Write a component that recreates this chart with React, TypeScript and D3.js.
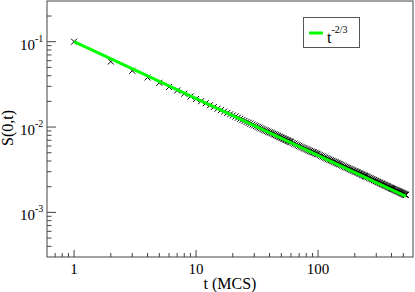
import React from "react";
import { scaleLog, line } from "d3";

// MC data, S(0,t) vs t
const times = [
  1, 2, 3, 4, 5, 6, 7, 8, 9, 10, 11, 12, 13, 14, 15, 16, 17, 18, 19, 20,
  21, 22, 23, 24, 25, 26, 27, 28, 29, 30, 31, 32, 33, 34, 35, 36, 37, 38, 39, 40,
  41, 42, 43, 44, 45, 46, 47, 48, 49, 50, 51, 52, 53, 54, 55, 56, 57, 58, 59, 60,
  62, 64, 66, 68, 70, 72, 74, 76, 78, 80, 82, 84, 86, 88, 90, 92, 94, 96, 98, 100,
  103, 106, 109, 112, 115, 118, 121, 124, 127, 130, 133, 136, 139, 142, 145, 148, 151,
  155, 159, 163, 167, 171, 175, 179, 183, 187, 191, 195, 199, 203, 207, 211, 215, 219,
  223, 227, 231, 235, 239, 243, 247, 251,
  257, 263, 269, 275, 281, 287, 293, 299, 305, 311, 317, 323, 329, 335, 341, 347, 353,
  359, 365, 371, 377, 383, 389, 395, 401, 407, 413, 419, 425, 431, 437, 443, 449, 455,
  461, 467, 473, 479, 485, 491, 497, 503, 509, 515, 521, 525,
];
const sValues = [
  0.1, 0.0586, 0.0457, 0.0381, 0.033, 0.0295, 0.0268, 0.0246, 0.0228, 0.0213,
  0.0201, 0.019, 0.018, 0.0172, 0.0164, 0.0158, 0.0152, 0.0146, 0.0141, 0.0137,
  0.01326, 0.01285, 0.01247, 0.01211, 0.01182, 0.01149, 0.01123, 0.01097, 0.0107, 0.01048,
  0.01025, 0.01004, 0.00984, 0.00964, 0.00947, 0.00929, 0.00913, 0.00897, 0.00882, 0.00867,
  0.00858, 0.00845, 0.00831, 0.00819, 0.00806, 0.00794, 0.00783, 0.00772, 0.00762, 0.00752,
  0.00742, 0.00732, 0.00723, 0.00714, 0.00705, 0.00697, 0.00689, 0.00681, 0.00673, 0.00665,
  0.00651, 0.00638, 0.00625, 0.00612, 0.00601, 0.00589, 0.00579, 0.00568, 0.00559, 0.00549,
  0.0054, 0.00532, 0.00524, 0.00516, 0.00508, 0.00506, 0.00498, 0.00491, 0.00485, 0.00478,
  0.00469, 0.0046, 0.00452, 0.00443, 0.00436, 0.00428, 0.00421, 0.00414, 0.00408, 0.00402,
  0.00397, 0.00391, 0.00386, 0.0038, 0.00375, 0.0037, 0.00365,
  0.00359, 0.00353, 0.00347, 0.00341, 0.00336, 0.00331, 0.00326, 0.00321, 0.00317, 0.00312,
  0.00308, 0.00304, 0.00301, 0.00297, 0.00294, 0.0029, 0.00286, 0.00283, 0.0028, 0.00276,
  0.00273, 0.0027, 0.00267, 0.00264, 0.00262,
  0.00258, 0.00254, 0.0025, 0.00246, 0.00243, 0.00239, 0.00236, 0.00233, 0.0023, 0.00227,
  0.00224, 0.00221, 0.00218, 0.00216, 0.00213, 0.00211, 0.00208, 0.00206, 0.00204, 0.00202,
  0.00199, 0.00197, 0.00195, 0.00193, 0.00191, 0.00189, 0.00188, 0.00186, 0.00184, 0.00182,
  0.00181, 0.00179, 0.00178, 0.00176, 0.00175, 0.00173, 0.00172, 0.0017, 0.00169, 0.00167,
  0.00166, 0.00165, 0.00163, 0.00162, 0.00161, 0.0016,
];

// fitted power law t^-2/3 (endpoints)
const fitTimes = [1, 525];
const fitValues = [0.1, 0.001537];

const xMajor = [1, 10, 100];
const xMajorLabels = ["1", "10", "100"];
const xMinor = [0.7, 0.8, 0.9, 2, 3, 4, 5, 6, 7, 8, 9, 20, 30, 40, 50, 60, 70, 80, 90, 200, 300, 400, 500];
const yMajor = [0.1, 0.01, 0.001];
const yMajorExp = ["-1", "-2", "-3"];
const yMinor = [
  0.2, 0.09, 0.08, 0.07, 0.06, 0.05, 0.04, 0.03, 0.02,
  0.009, 0.008, 0.007, 0.006, 0.005, 0.004, 0.003, 0.002,
  0.0009, 0.0008, 0.0007, 0.0006, 0.0005, 0.0004,
];

const width = 415;
const height = 292;
const plot = { left: 47, right: 413, top: 1, bottom: 257 };
const serif =
  "'Liberation Serif', 'Times New Roman', Times, Tinos, 'Noto Serif', 'DejaVu Serif', FreeSerif, serif";

export default function App() {
  const x = scaleLog().domain([0.6, 600]).range([plot.left, plot.right]);
  const y = scaleLog().domain([3e-4, 3e-1]).range([plot.bottom, plot.top]);

  const fitLine = line<number>()
    .x((d, i) => x(fitTimes[i]))
    .y((d) => y(d));

  const pts = times.map((t, i) => ({ t, s: sValues[i] }));
  const c = 3;

  return (
    <svg
      width={width}
      height={height}
      style={{ position: "absolute", left: 0, top: 0, background: "white", fontFamily: serif }}
    >
      <defs>
        <clipPath id="clip">
          <rect x={plot.left} y={plot.top} width={plot.right - plot.left} height={plot.bottom - plot.top} />
        </clipPath>
      </defs>

      {/* data crosses */}
      <g stroke="black" strokeWidth={1} clipPath="url(#clip)">
        {pts.map((p, i) => {
          const px = x(p.t);
          const py = y(p.s);
          return (
            <path
              key={i}
              d={`M${px - c},${py - c}L${px + c},${py + c}M${px - c},${py + c}L${px + c},${py - c}`}
            />
          );
        })}
      </g>

      {/* fit */}
      <path d={fitLine(fitValues) || ""} fill="none" stroke="#00ff00" strokeWidth={3} />

      {/* frame */}
      <rect
        x={plot.left}
        y={plot.top}
        width={plot.right - plot.left}
        height={plot.bottom - plot.top}
        fill="none"
        stroke="#444"
        strokeWidth={1}
      />

      {/* x ticks */}
      <g stroke="#444">
        {xMajor.map((t) => (
          <line key={t} x1={x(t)} x2={x(t)} y1={plot.bottom} y2={plot.bottom - 7} />
        ))}
        {xMinor.map((t) => (
          <line key={t} x1={x(t)} x2={x(t)} y1={plot.bottom} y2={plot.bottom - 4} />
        ))}
      </g>
      {xMajor.map((t, i) => (
        <text key={t} x={x(t)} y={plot.bottom + 17} fontSize={15} textAnchor="middle" fill="black">
          {xMajorLabels[i]}
        </text>
      ))}

      {/* y ticks */}
      <g stroke="#444">
        {yMajor.map((v) => (
          <line key={v} x1={plot.left} x2={plot.left + 9} y1={y(v)} y2={y(v)} />
        ))}
        {yMinor.map((v) => (
          <line key={v} x1={plot.left} x2={plot.left + 4.5} y1={y(v)} y2={y(v)} />
        ))}
      </g>
      {yMajor.map((v, i) => (
        <text key={v} x={20} y={y(v) + 8} fontSize={15} fill="black">
          10
          <tspan dy={-8} fontSize={10}>
            {yMajorExp[i]}
          </tspan>
        </text>
      ))}

      {/* axis titles */}
      <text x={(plot.left + plot.right) / 2} y={289} fontSize={16} textAnchor="middle" fill="black">
        t (MCS)
      </text>
      <text transform="translate(13,128) rotate(-90)" fontSize={16} textAnchor="middle" fill="black">
        S(0,t)
      </text>

      {/* legend */}
      <rect x={303.5} y={17.5} width={56} height={30} fill="white" stroke="#555" strokeWidth={1} />
      <line x1={309} x2={323} y1={33} y2={33} stroke="#00ff00" strokeWidth={3} />
      <text x={327} y={43} fontSize={16} fill="black">
        t
        <tspan dy={-10} fontSize={10}>
          -2/3
        </tspan>
      </text>
    </svg>
  );
}
